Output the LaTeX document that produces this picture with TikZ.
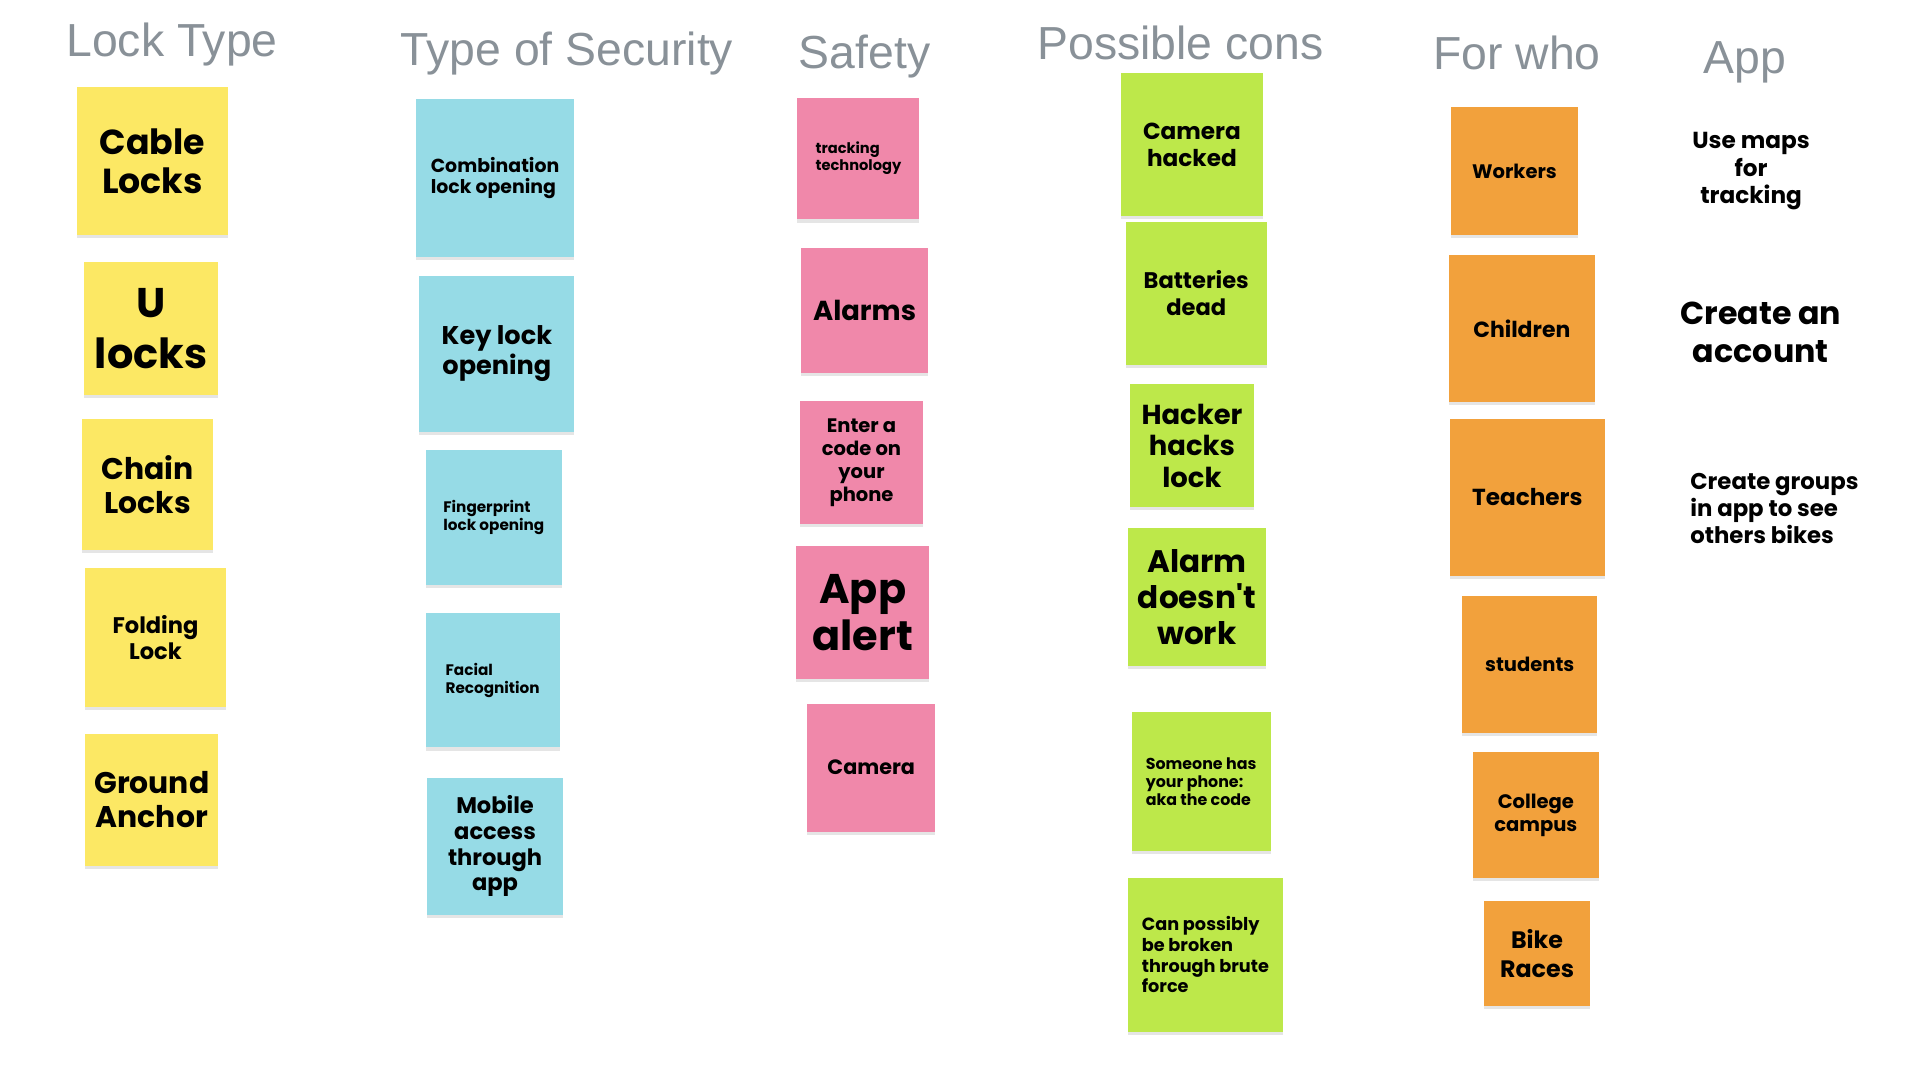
\documentclass[tikz,border=0pt]{standalone}
\usepackage{fontspec}
\usetikzlibrary{shadows}
\newfontfamily\notefont{Poppins}
\newfontfamily\titlefont{Liberation Sans}
\definecolor{headgray}{RGB}{137,145,152}
\definecolor{stickyyellow}{RGB}{252,232,100}
\definecolor{stickyblue}{RGB}{150,219,230}
\definecolor{stickypink}{RGB}{240,136,170}
\definecolor{stickygreen}{RGB}{189,232,74}
\definecolor{stickyorange}{RGB}{242,161,60}
\begin{document}
\begin{tikzpicture}[x=1pt,y=-1pt,
    note/.style={rectangle,fill=#1,inner sep=0pt,align=center,
      drop shadow={shadow xshift=0pt,shadow yshift=-2.5pt,opacity=0.2}},
    sz/.style 2 args={minimum width=#1pt,minimum height=#2pt},
    fs/.style 2 args={font=\notefont\bfseries\fontsize{#1}{#2}\selectfont},
    heading/.style={anchor=base,text=headgray,font=\titlefont\fontsize{38}{44}\selectfont}]

      \path[fill=white,use as bounding box] (0,0) rectangle (1568,886);

      \node[heading] (locktype) at (141,46) {Lock Type};
      \node[heading] (sectype) at (465,54) {Type of Security};
      \node[heading] (safety) at (709,56) {Safety};
      \node[heading] (cons) at (968,49) {Possible cons};
      \node[heading] (forwho) at (1244,57) {For who};
      \node[heading] (app) at (1431,60) {App};

      \node[note=stickyyellow,sz={124}{122},fs={28.5}{32}] (cable) at (125,132) {Cable\\Locks};
      \node[note=stickyyellow,sz={110}{109},fs={34}{42}] (ulocks) at (124,269.5) {U\\locks};
      \node[note=stickyyellow,sz={108}{107},fs={24.5}{28}] (chain) at (121,397.5) {Chain\\Locks};
      \node[note=stickyyellow,sz={115}{114},fs={18.5}{21}] (folding) at (127.5,523) {Folding\\Lock};
      \node[note=stickyyellow,sz={109}{108},fs={24.5}{28}] (ground) at (124.5,656) {Ground\\Anchor};

      \node[note=stickyblue,sz={130}{130},fs={15.5}{18},align=left] (combo) at (406,146) {Combination\\lock opening};
      \node[note=stickyblue,sz={127}{128},fs={21}{24}] (keylock) at (407.5,290) {Key lock\\opening};
      \node[note=stickyblue,sz={112}{111},fs={12.5}{15},align=left] (finger) at (405,424.5) {Fingerprint\\lock opening};
      \node[note=stickyblue,sz={110}{110},fs={12.5}{15},align=left] (facial) at (404,558) {Facial\\Recognition};
      \node[note=stickyblue,sz={112}{112},fs={18.5}{21}] (mobile) at (406,694) {Mobile\\access\\through\\app};

      \node[note=stickypink,sz={100}{100},fs={12}{14},align=left] (tracking) at (704,130) {tracking\\technology};
      \node[note=stickypink,sz={104}{103},fs={22.5}{26}] (alarms) at (709,254.5) {Alarms};
      \node[note=stickypink,sz={101}{101},fs={16}{19}] (entercode) at (706.5,379.5) {Enter a\\code on\\your\\phone};
      \node[note=stickypink,sz={109}{109},fs={34}{39}] (appalert) at (707.5,502.5) {App\\alert};
      \node[note=stickypink,sz={105}{105},fs={17}{20}] (camera) at (714.5,629.5) {Camera};

      \node[note=stickygreen,sz={117}{117},fs={19}{22}] (camhacked) at (977.5,118.5) {Camera\\hacked};
      \node[note=stickygreen,sz={116}{117},fs={18.5}{22}] (batteries) at (981,240.5) {Batteries\\dead};
      \node[note=stickygreen,sz={101}{101},fs={22.5}{26}] (hacker) at (977.5,365.5) {Hacker\\hacks\\lock};
      \node[note=stickygreen,sz={113}{113},fs={25.5}{29.5}] (alarmfail) at (981.5,489.5) {Alarm\\doesn't\\work};
      \node[note=stickygreen,sz={114}{114},fs={13}{15},align=left] (phone) at (985,641) {Someone has\\your phone:\\aka the code};
      \node[note=stickygreen,sz={127}{126},fs={14.5}{17},align=left] (brute) at (988.5,783) {Can possibly\\be broken\\through brute\\force};

      \node[note=stickyorange,sz={104}{105},fs={16}{19}] (workers) at (1242,140.5) {Workers};
      \node[note=stickyorange,sz={120}{121},fs={18}{21}] (children) at (1248,269.5) {Children};
      \node[note=stickyorange,sz={127}{128},fs={19}{22}] (teachers) at (1252.5,408) {Teachers};
      \node[note=stickyorange,sz={111}{112},fs={16}{19}] (students) at (1254.5,545) {students};
      \node[note=stickyorange,sz={103}{103},fs={16}{19}] (college) at (1259.5,668.5) {College\\campus};
      \node[note=stickyorange,sz={87}{86},fs={19.5}{23}] (bike) at (1260.5,782) {Bike\\Races};

      \node[align=center,inner sep=0pt,fs={19}{22.5}] (usemaps) at (1436,140.5) {Use maps\\for\\tracking};
      \node[align=center,inner sep=0pt,fs={26}{31}] (account) at (1444,272.5) {Create an\\account};
      \node[align=left,inner sep=0pt,anchor=west,fs={18.7}{22}] (groups) at (1386,417) {Create groups\\in app to see\\others bikes};

    \end{tikzpicture}
\end{document}
